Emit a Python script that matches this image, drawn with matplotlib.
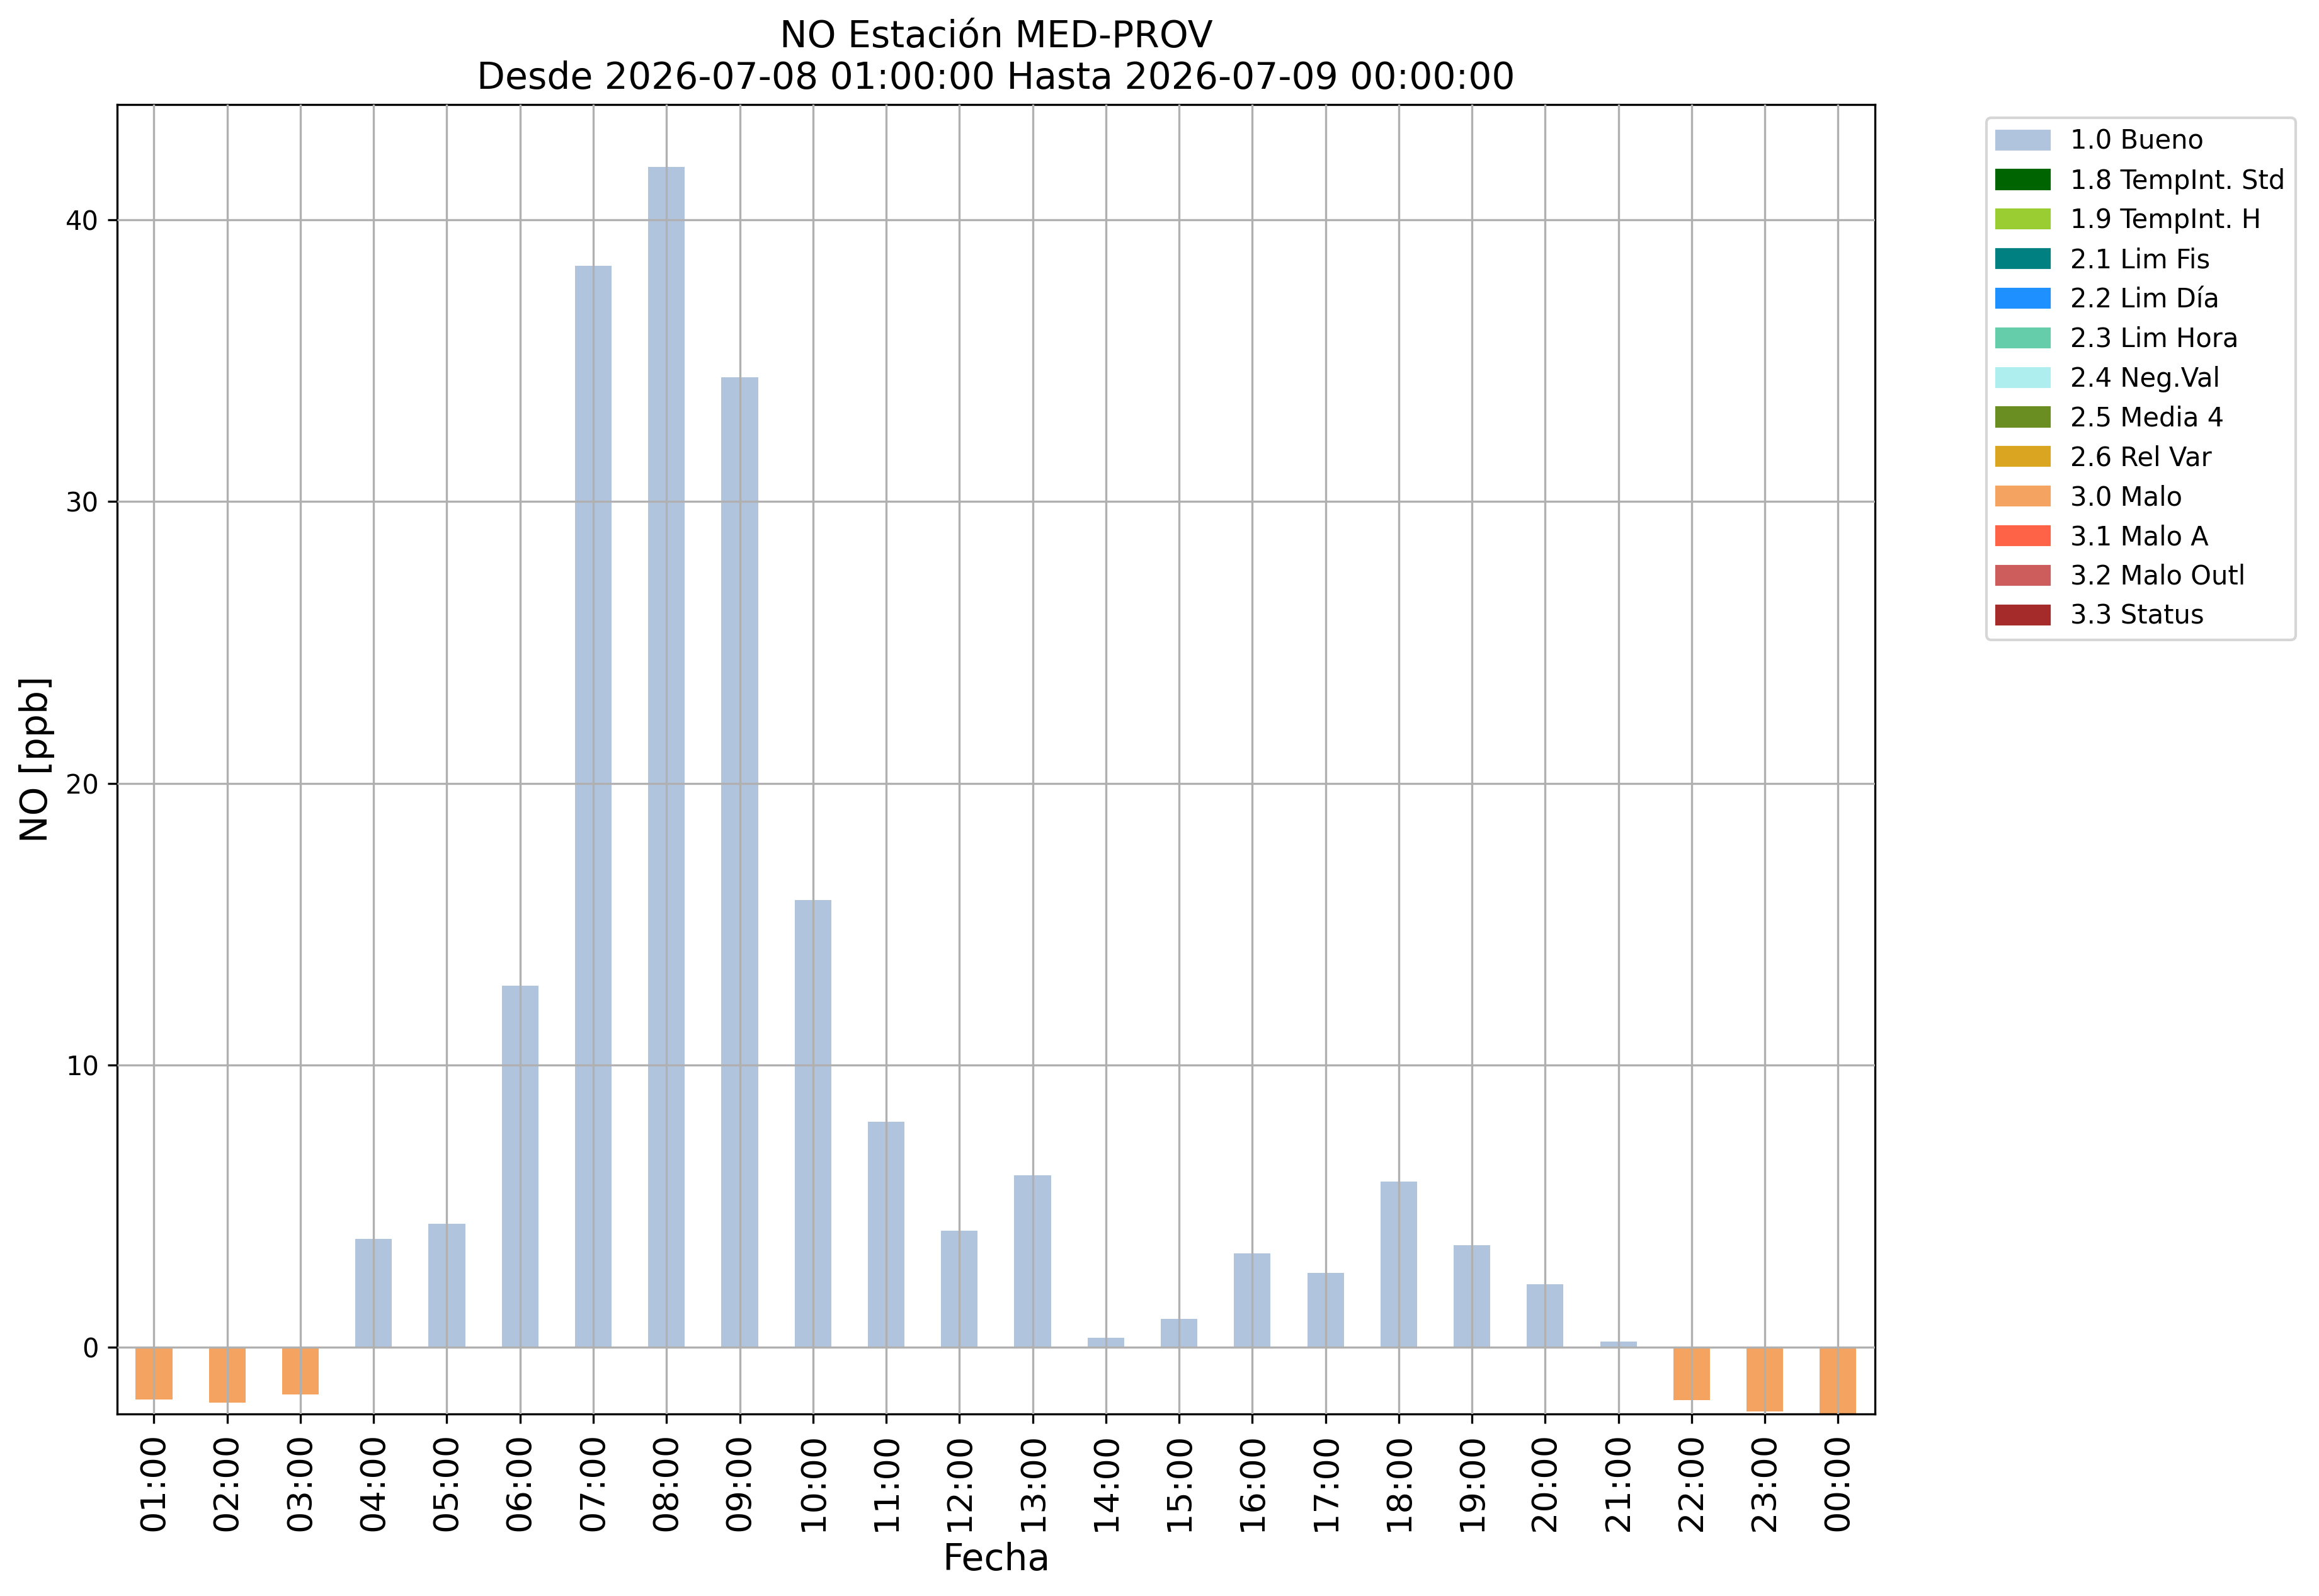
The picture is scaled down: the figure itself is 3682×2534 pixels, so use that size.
import matplotlib
matplotlib.use('Agg')
import matplotlib.pyplot as plt
import matplotlib.patches as mpatches
import numpy as np

# hourly NO values and their quality flag
horas = ['01:00', '02:00', '03:00', '04:00', '05:00', '06:00', '07:00', '08:00',
         '09:00', '10:00', '11:00', '12:00', '13:00', '14:00', '15:00', '16:00',
         '17:00', '18:00', '19:00', '20:00', '21:00', '22:00', '23:00', '00:00']
valores = [-1.85, -1.96, -1.67, 3.83, 4.38, 12.83, 38.37, 41.88,
           34.42, 15.87, 8.00, 4.12, 6.10, 0.34, 1.00, 3.33,
           2.64, 5.88, 3.62, 2.23, 0.20, -1.89, -2.28, -2.38]
flags = [3.0, 3.0, 3.0, 1.0, 1.0, 1.0, 1.0, 1.0,
         1.0, 1.0, 1.0, 1.0, 1.0, 1.0, 1.0, 1.0,
         1.0, 1.0, 1.0, 1.0, 1.0, 3.0, 3.0, 3.0]

flag_codes = [1.0, 1.8, 1.9, 2.1, 2.2, 2.3, 2.4, 2.5, 2.6, 3.0, 3.1, 3.2, 3.3]
flag_names = ['Bueno', 'TempInt. Std', 'TempInt. H', 'Lim Fis', 'Lim Día',
              'Lim Hora', 'Neg.Val', 'Media 4', 'Rel Var', 'Malo', 'Malo A',
              'Malo Outl', 'Status']
flag_colors = ['lightsteelblue', 'darkgreen', 'yellowgreen', 'teal', 'dodgerblue',
               'mediumaquamarine', 'paleturquoise', 'olivedrab', 'goldenrod',
               'sandybrown', 'tomato', 'indianred', 'brown']

color_map = dict(zip(flag_codes, flag_colors))
bar_colors = [color_map[f] for f in flags]

fig = plt.figure(figsize=(3682 / 300, 2534 / 300), dpi=300)
ax = fig.add_axes([0.0506, 0.1139, 0.8084 - 0.0506, 0.9344 - 0.1139])

x = np.arange(len(horas))
ax.bar(x, valores, width=0.5, color=bar_colors)
ax.set_xlim(-0.5, len(horas) - 0.5)
ax.set_ylim(-2.38, 44.08)
ax.set_xticks(x)
ax.set_xticklabels(horas, rotation=90, fontsize=13)
ax.tick_params(axis='y', labelsize=10)

ax.set_axisbelow(False)
ax.grid(True, color='#b0b0b0', linewidth=0.8)

ax.set_title('NO Estación MED-PROV\nDesde 2026-07-08 01:00:00 Hasta 2026-07-09 00:00:00',
             fontsize=14)
ax.set_xlabel('Fecha', fontsize=14)
ax.set_ylabel('NO [ppb]', fontsize=14)

handles = [mpatches.Patch(color=c, label=f'{code:.1f} {name}')
           for code, name, c in zip(flag_codes, flag_names, flag_colors)]
ax.legend(handles=handles, bbox_to_anchor=(1.056, 1), loc='upper left', fontsize=10)

fig.savefig('out.png', dpi=300)
